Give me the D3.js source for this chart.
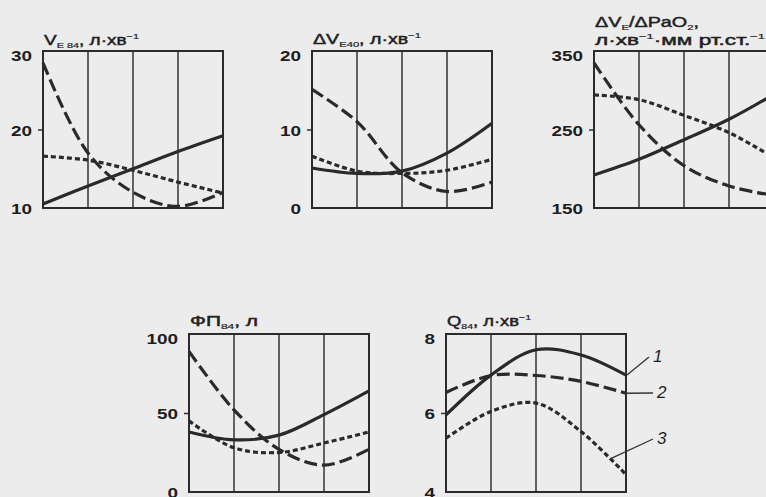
<!DOCTYPE html>
<html>
<head>
<meta charset="utf-8" />
<style>
  body { margin: 0; background: #ececec; overflow: hidden; }
  svg { display: block; }
  .frame { fill: none; stroke: #2b2b2b; stroke-width: 2; }
  .grid { stroke: #333; stroke-width: 1.5; }
  .axis text { font-family: "Liberation Sans", Arial, sans-serif; font-size: 15px; font-weight: bold; fill: #1e1e1e; }
  .axis path { display: none; }
  .axis line { stroke: #333; stroke-width: 1.5; }
  .title { font-family: "Liberation Sans", Arial, sans-serif; font-size: 14px; fill: #222; stroke: #222; stroke-width: 0.45; }
  .curve { fill: none; stroke: #2a2a2a; stroke-width: 3.2; }
  .leader { stroke: #333; stroke-width: 1.3; }
  .num { font-family: "Liberation Sans", Arial, sans-serif; font-size: 17px; font-style: italic; fill: #1e1e1e; }
</style>
</head>
<body>
<script src="https://cdn.jsdelivr.net/npm/d3@7"></script>
<script>
// stages along x (5 points, 4 columns)
var stages = [0, 1, 2, 3, 4];

// V E84, л·хв-1
var ve84Curve1 = [10.5, 12.8, 15.0, 17.2, 19.2];
var ve84Curve2 = [28.5, 17.0, 12.0, 10.2, 12.0];
var ve84Curve3 = [16.6, 16.1, 14.8, 13.3, 11.9];
var ve84Ticks = [10, 20, 30];

// ΔV E40, л·хв-1
var dve40Curve1 = [5.1, 4.4, 4.7, 7.0, 10.8];
var dve40Curve2 = [15.1, 11.0, 4.5, 2.1, 3.3];
var dve40Curve3 = [6.6, 4.7, 4.4, 4.8, 6.2];
var dve40Ticks = [0, 10, 20];

// ΔVE/ΔPaO2
var ratioCurve1 = [192, 212, 237, 263, 295];
var ratioCurve2 = [335, 256, 204, 178, 166];
var ratioCurve3 = [294, 288, 268, 246, 214];
var ratioTicks = [150, 250, 350];

// ФП84, л
var fp84Curve1 = [38, 33, 36, 49, 64];
var fp84Curve2 = [89, 52, 27, 17, 27];
var fp84Curve3 = [45, 28, 25, 31, 38];
var fp84Ticks = [0, 50, 100];

// Q84, л·хв-1
var q84Curve1 = [5.95, 6.96, 7.6, 7.47, 6.96];
var q84Curve2 = [6.52, 6.95, 6.95, 6.8, 6.5];
var q84Curve3 = [5.36, 6.04, 6.25, 5.53, 4.44];
var q84Ticks = [4, 6, 8];

var curveNames = ['1', '2', '3'];

var dashes = [null, '13,5', '5,3'];

var panels = [
  { left: 43, top: 51, h: 157, ticks: ve84Ticks, series: [ve84Curve1, ve84Curve2, ve84Curve3],
    title: [{y: 45, w: 95, parts: [{t: 'V'}, {t: 'E 84', sub: true}, {t: ',  л·хв'}, {t: '−1', sup: true}]}] },
  { left: 312, top: 51, h: 157, ticks: dve40Ticks, series: [dve40Curve1, dve40Curve2, dve40Curve3],
    title: [{y: 44, w: 108, parts: [{t: 'ΔV'}, {t: 'E40', sub: true}, {t: ',  л·хв'}, {t: '−1', sup: true}]}] },
  { left: 594, top: 51, h: 157, ticks: ratioTicks, series: [ratioCurve1, ratioCurve2, ratioCurve3],
    title: [{y: 27, w: 104, parts: [{t: 'ΔV'}, {t: 'E', sub: true}, {t: '/ΔPaO'}, {t: '2', sub: true}, {t: ','}]},
            {y: 45, w: 170, parts: [{t: 'л·хв'}, {t: '−1', sup: true}, {t: '·мм  рт.ст.'}, {t: '−1', sup: true}]}] },
  { left: 189, top: 334, h: 158, ticks: fp84Ticks, series: [fp84Curve1, fp84Curve2, fp84Curve3],
    title: [{y: 326, w: 68, parts: [{t: 'ФП'}, {t: '84', sub: true}, {t: ',  л'}]}] },
  { left: 446, top: 334, h: 158, ticks: q84Ticks, series: [q84Curve1, q84Curve2, q84Curve3],
    title: [{y: 326, w: 84, parts: [{t: 'Q'}, {t: '84', sub: true}, {t: ',  л·хв'}, {t: '−1', sup: true}]}],
    legend: true }
];

var panelW = 180;

var svg = d3.select('body').append('svg')
  .attr('width', 766)
  .attr('height', 497);

panels.forEach(function(p) {
  var x = d3.scaleLinear().domain([0, 4]).range([p.left, p.left + panelW]);
  var y = d3.scaleLinear().domain([p.ticks[0], p.ticks[2]]).range([p.top + p.h, p.top]);
  var g = svg.append('g');

  // columns
  g.selectAll('.grid').data([1, 2, 3]).enter().append('line')
    .attr('class', 'grid')
    .attr('x1', function(d) { return x(d); })
    .attr('x2', function(d) { return x(d); })
    .attr('y1', p.top).attr('y2', p.top + p.h);

  g.append('rect').attr('class', 'frame')
    .attr('x', p.left).attr('y', p.top)
    .attr('width', panelW).attr('height', p.h);

  var axis = d3.axisLeft(y).tickValues(p.ticks).tickSize(5).tickPadding(6)
    .tickFormat(d3.format('d'));
  var ax = g.append('g').attr('class', 'axis')
    .attr('transform', 'translate(' + p.left + ',0)')
    .call(axis);
  ax.selectAll('.tick line')
    .attr('display', function(d, i) { return i === 1 ? null : 'none'; });
  ax.selectAll('.tick text')
    .attr('y', function(d, i) { return i === 2 ? 5 : 1; })
    .attr('textLength', function(d) { return String(d).length * 10.5; })
    .attr('lengthAdjust', 'spacingAndGlyphs');

  var line = d3.line()
    .x(function(d, i) { return x(stages[i]); })
    .y(function(d) { return y(d); })
    .curve(d3.curveCatmullRom.alpha(0.5));

  p.series.forEach(function(s, i) {
    g.append('path').attr('class', 'curve')
      .attr('d', line(s))
      .attr('stroke-dasharray', dashes[i]);
  });

  // title rows
  p.title.forEach(function(row) {
    var txt = g.append('text').attr('class', 'title')
      .attr('x', p.left + 1)
      .attr('y', row.y)
      .attr('textLength', row.w)
      .attr('lengthAdjust', 'spacingAndGlyphs');
    var shift = 0;
    row.parts.forEach(function(part) {
      var target = part.sub ? 3 : (part.sup ? -6 : 0);
      var ts = txt.append('tspan').text(part.t).attr('dy', target - shift);
      shift = target;
      if (part.sub || part.sup) ts.attr('font-size', 8).attr('stroke-width', 0.2);
    });
  });

  if (p.legend) {
    var labelPos = [[653, 362], [657, 398], [657, 444]];
    var leaderFrom = [[4, p.series[0][4]], [4, p.series[1][4]], [3.65, 4.85]];
    curveNames.forEach(function(n, i) {
      g.append('line').attr('class', 'leader')
        .attr('x1', x(leaderFrom[i][0]) + 1).attr('y1', y(leaderFrom[i][1]))
        .attr('x2', labelPos[i][0] - 4).attr('y2', labelPos[i][1] - 5);
      g.append('text').attr('class', 'num')
        .attr('x', labelPos[i][0]).attr('y', labelPos[i][1])
        .text(n);
    });
  }
});
</script>
</body>
</html>
